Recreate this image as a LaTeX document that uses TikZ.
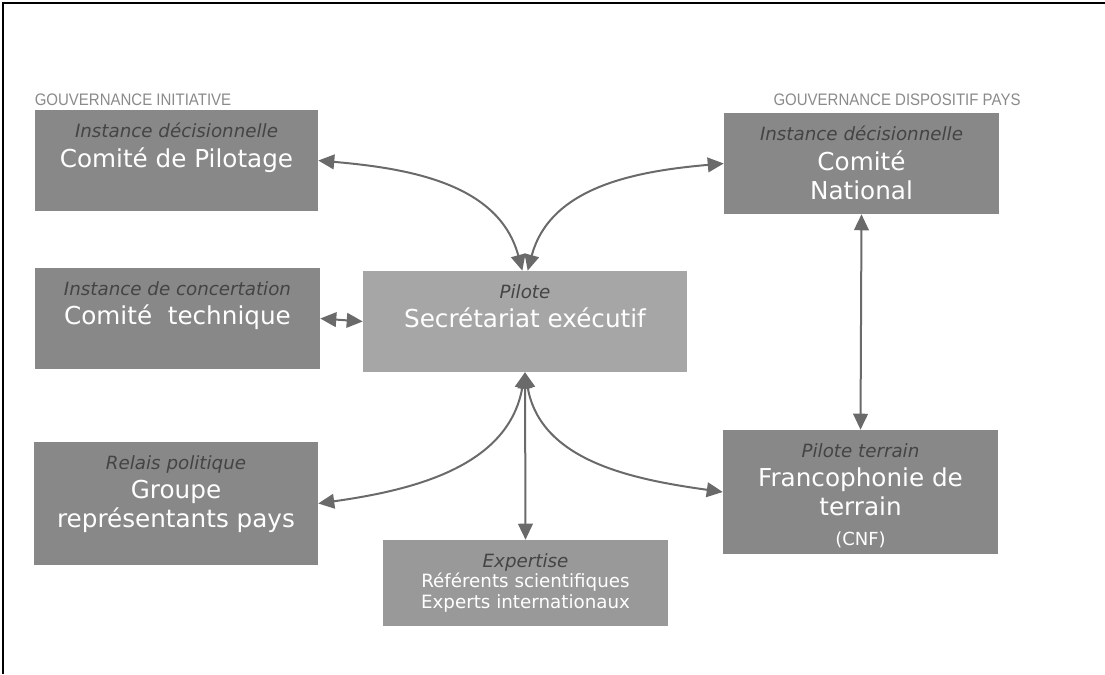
\documentclass[tikz,border=0pt]{standalone}
\usepackage{fontspec}
\setmainfont{DejaVu Sans}
\newfontfamily\titlefont[FakeStretch=0.9]{Liberation Sans}
\usetikzlibrary{arrows.meta,positioning}

\definecolor{boxgray}{HTML}{888888}
\definecolor{pilgray}{HTML}{A6A6A6}
\definecolor{expgray}{HTML}{999999}
\definecolor{linkgray}{HTML}{6A6A6A}
\definecolor{lblgray}{HTML}{444444}
\definecolor{ttlgray}{HTML}{8A8A8A}

\newcommand{\lbl}[1]{{\fontsize{13.7}{18}\selectfont\itshape\color{lblgray}#1}}

\begin{document}
\begin{tikzpicture}[x=0.75pt,y=0.75pt,>={Triangle[length=12pt,width=11pt]}]
\tikzstyle{box}=[fill=boxgray, inner sep=0pt]
\tikzstyle{txt}=[text=white, align=center, inner sep=0pt, font=\fontsize{18.5}{22}\selectfont]
\tikzstyle{ttl}=[text=ttlgray, font=\titlefont\fontsize{12.5}{15}\selectfont]
\tikzstyle{link}=[draw=linkgray, line width=1.5pt, <->]

\useasboundingbox (0,0) rectangle (1105,674);
\draw[line width=1.8pt] (3,0) -- (3,671) -- (1105,671);

% titres
\node[ttl] (tIni) at (133,574) {GOUVERNANCE INITIATIVE};
\node[ttl] (tPays) at (897,574) {GOUVERNANCE DISPOSITIF PAYS};

% instances
\node[box, minimum width=212.25pt, minimum height=75.75pt] (pil) at (176.5,513.5) {};
\node[box, minimum width=213.75pt, minimum height=75.75pt] (tec) at (177.5,355.5) {};
\node[box, minimum width=213pt, minimum height=92.25pt] (grp) at (176,170.5) {};
\node[box, fill=pilgray, minimum width=243pt, minimum height=75.75pt] (sec) at (525,352.5) {};
\node[box, fill=expgray, minimum width=213.75pt, minimum height=64.5pt] (exp) at (525.5,91) {};
\node[box, minimum width=206.25pt, minimum height=75.75pt] (nat) at (861.5,510.5) {};
\node[box, minimum width=206.25pt, minimum height=93pt] (fra) at (860.5,182) {};

\node[txt, below=10pt of pil.north] (pilT) {\lbl{Instance décisionnelle}\\Comité de Pilotage};
\node[txt, below=10pt of tec.north] (tecT) {\lbl{Instance de concertation}\\Comité~~technique};
\node[txt, below=10pt of grp.north] (grpT) {\lbl{Relais politique}\\Groupe\\représentants pays};
\node[txt, below=10pt of sec.north] (secT) {\lbl{Pilote}\\Secrétariat exécutif};
\node[txt, below=10pt of exp.north, font=\fontsize{13.7}{15.5}\selectfont] (expT)
    {\lbl{Expertise}\\Référents scientifiques\\Experts internationaux};
\node[txt, below=10pt of nat.north] (natT) {\lbl{Instance décisionnelle}\\Comité\\National};
\node[txt, below=10pt of fra.north] (fraT)
    {\lbl{Pilote terrain}\\Francophonie de\\terrain\\{\fontsize{13.5}{19}\selectfont(CNF)}};

% liens
\draw[link] (pil.east) to[out=-5,in=105] ([xshift=-2pt]sec.north);
\draw[link] ([xshift=2pt]sec.north) to[out=75,in=185] (nat.west);
\draw[link] (tec.east) -- (sec.west);
\draw[link] (sec.south) to[out=-100,in=8] (grp.east);
\draw[link] (sec.south) to[out=-80,in=172] (fra.west);
\draw[link] (sec.south) -- (exp.north);
\draw[link] (nat.south) -- (fra.north);
\end{tikzpicture}
\end{document}
